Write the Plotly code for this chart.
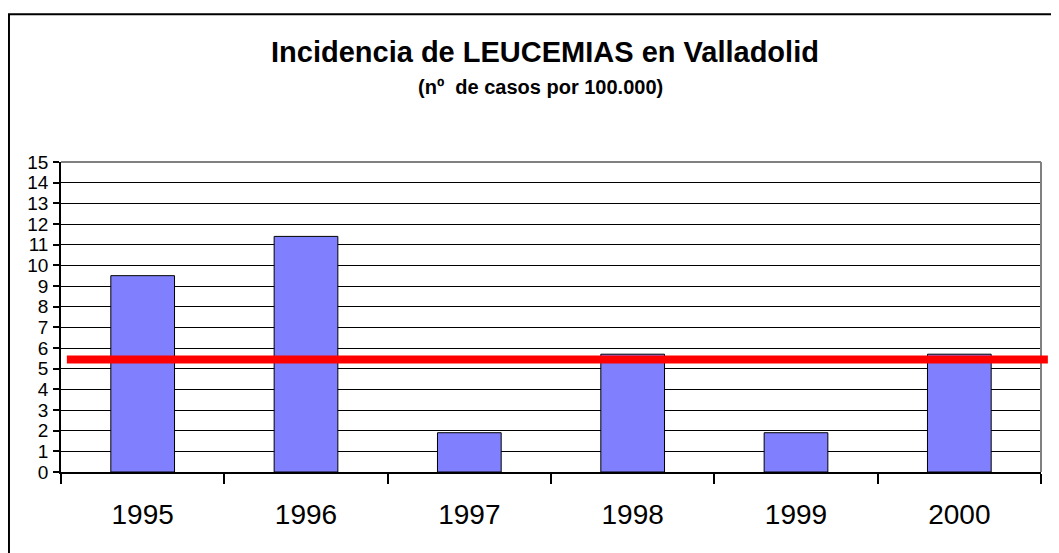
import plotly.graph_objects as go

years = ["1995", "1996", "1997", "1998", "1999", "2000"]
incidence = [9.5, 11.4, 1.9, 5.7, 1.9, 5.7]
reference_level = 5.44
y_ticks = list(range(0, 16))

title_text = "Incidencia de LEUCEMIAS en Valladolid"
subtitle_text = "(nº&nbsp; de casos por 100.000)"

FONT = "Liberation Sans, Arial, sans-serif"

fig = go.Figure()
fig.add_trace(go.Bar(
    x=years, y=incidence,
    marker=dict(color="#8080FF", line=dict(color="black", width=1)),
    hoverinfo="x+y",
))

# page body has an 8px margin, so margins are shifted to compensate
fig.update_layout(
    width=1059, height=553,
    margin=dict(l=53, r=26, t=154, b=89, autoexpand=False),
    paper_bgcolor="white", plot_bgcolor="white",
    bargap=0.61,
    showlegend=False,
    font=dict(family=FONT, color="black"),
)

fig.update_xaxes(
    type="category",
    showline=True, linecolor="black", linewidth=1.5,
    ticks="outside", tickson="boundaries", ticklen=10, tickwidth=1.5, tickcolor="black",
    tickfont=dict(size=28, family=FONT, color="black"),
    ticklabelstandoff=17,
    showgrid=False,
)
fig.update_yaxes(
    range=[0, 15], tickvals=y_ticks, ticktext=[str(v) for v in y_ticks],
    showline=True, linecolor="black", linewidth=1.5,
    ticks="outside", ticklen=6, tickwidth=1.5, tickcolor="black",
    tickfont=dict(size=19, family=FONT, color="black"),
    ticklabelstandoff=1,
    showgrid=True, gridcolor="black", gridwidth=1,
    zeroline=False,
)

shapes = [
    dict(type="line", xref="paper", yref="paper", x0=0, x1=1, y0=1, y1=1,
         line=dict(color="#808080", width=2), layer="above"),
    dict(type="line", xref="paper", yref="paper", x0=1, x1=1, y0=0, y1=1,
         line=dict(color="#808080", width=2), layer="above"),
    dict(type="line", xref="paper", yref="y", x0=0.006, x1=1.007,
         y0=reference_level, y1=reference_level,
         line=dict(color="#FF0000", width=8), layer="above"),
    dict(type="rect", xref="paper", yref="paper", x0=-0.0531, x1=1.2, y0=-0.6, y1=1.4765,
         line=dict(color="black", width=2), fillcolor="rgba(0,0,0,0)", layer="above"),
]
fig.update_layout(shapes=shapes)

fig.add_annotation(text="<b>" + title_text + "</b>", xref="paper", yref="paper",
                   x=0.4936, y=1.3555, xanchor="center", yanchor="middle",
                   showarrow=False, font=dict(size=29, family=FONT, color="black"))
fig.add_annotation(text="<b>" + subtitle_text + "</b>", xref="paper", yref="paper",
                   x=0.4893, y=1.241, xanchor="center", yanchor="middle",
                   showarrow=False, font=dict(size=20, family=FONT, color="black"))

fig.write_html("out.html")
